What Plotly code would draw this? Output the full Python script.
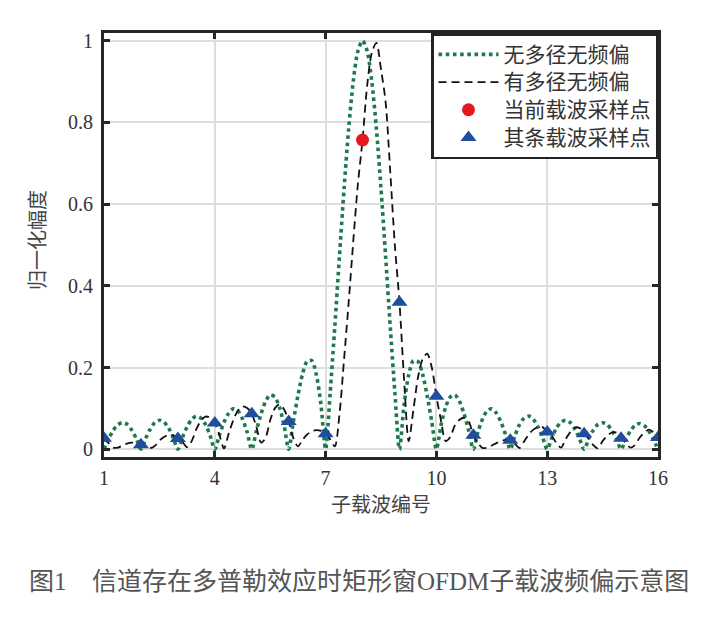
import plotly.graph_objects as go

# subcarrier axis samples (1 .. 16, step 0.125)
x_curve = [1, 1.125, 1.25, 1.375, 1.5, 1.625, 1.75, 1.875,
           2, 2.125, 2.25, 2.375, 2.5, 2.625, 2.75, 2.875,
           3, 3.125, 3.25, 3.375, 3.5, 3.625, 3.75, 3.875,
           4, 4.125, 4.25, 4.375, 4.5, 4.625, 4.75, 4.875,
           5, 5.125, 5.25, 5.375, 5.5, 5.625, 5.75, 5.875,
           6, 6.125, 6.25, 6.375, 6.5, 6.625, 6.75, 6.875,
           7, 7.125, 7.25, 7.375, 7.5, 7.625, 7.75, 7.875,
           8, 8.125, 8.25, 8.375, 8.5, 8.625, 8.75, 8.875,
           9, 9.125, 9.25, 9.375, 9.5, 9.625, 9.75, 9.875,
           10, 10.125, 10.25, 10.375, 10.5, 10.625, 10.75, 10.875,
           11, 11.125, 11.25, 11.375, 11.5, 11.625, 11.75, 11.875,
           12, 12.125, 12.25, 12.375, 12.5, 12.625, 12.75, 12.875,
           13, 13.125, 13.25, 13.375, 13.5, 13.625, 13.75, 13.875,
           14, 14.125, 14.25, 14.375, 14.5, 14.625, 14.75, 14.875,
           15, 15.125, 15.25, 15.375, 15.5, 15.625, 15.75, 15.875,
           16]

# 无多径无频偏 (green dotted)
y_no_multipath = [0, 0.025, 0.046, 0.060, 0.065, 0.061, 0.047, 0.026,
                  0, 0.026, 0.049, 0.065, 0.071, 0.066, 0.052, 0.028,
                  0, 0.029, 0.055, 0.073, 0.081, 0.076, 0.060, 0.033,
                  0, 0.035, 0.066, 0.088, 0.099, 0.094, 0.074, 0.042,
                  0, 0.045, 0.086, 0.117, 0.133, 0.128, 0.103, 0.059,
                  0, 0.067, 0.131, 0.184, 0.215, 0.217, 0.182, 0.109,
                  0, 0.140, 0.301, 0.472, 0.638, 0.785, 0.901, 0.975,
                  1.0, 0.975, 0.901, 0.785, 0.638, 0.472, 0.301, 0.140,
                  0, 0.109, 0.182, 0.217, 0.215, 0.184, 0.131, 0.067,
                  0, 0.059, 0.103, 0.128, 0.133, 0.117, 0.086, 0.045,
                  0, 0.042, 0.074, 0.094, 0.099, 0.088, 0.066, 0.035,
                  0, 0.033, 0.060, 0.076, 0.081, 0.073, 0.055, 0.029,
                  0, 0.028, 0.052, 0.066, 0.071, 0.065, 0.049, 0.026,
                  0, 0.026, 0.047, 0.061, 0.065, 0.060, 0.046, 0.025,
                  0, 0.024, 0.044, 0.058, 0.063, 0.058, 0.045, 0.024,
                  0]

# 有多径无频偏 (black dashed)
y_multipath = [0.027, 0.015, 0.004, 0.004, 0.009, 0.014, 0.016, 0.016,
               0.011, 0.008, 0.003, 0.008, 0.021, 0.030, 0.035, 0.034,
               0.026, 0.018, 0.005, 0.020, 0.049, 0.070, 0.080, 0.077,
               0.064, 0.035, 0.002, 0.038, 0.071, 0.095, 0.105, 0.101,
               0.087, 0.055, 0.016, 0.028, 0.071, 0.100, 0.110, 0.098,
               0.068, 0.028, 0.007, 0.023, 0.036, 0.044, 0.047, 0.045,
               0.038, 0.024, 0.007, 0.085, 0.22, 0.36, 0.51, 0.65,
               0.757, 0.89, 0.97, 0.995, 0.93, 0.85, 0.68, 0.50,
               0.36, 0.17, 0.02, 0.095, 0.175, 0.22, 0.234, 0.20,
               0.13, 0.07, 0.02, 0.03, 0.058, 0.072, 0.077, 0.068,
               0.034, 0.015, 0.003, 0.004, 0.009, 0.015, 0.020, 0.023,
               0.022, 0.013, 0.003, 0.019, 0.036, 0.048, 0.054, 0.054,
               0.042, 0.033, 0.015, 0.004, 0.025, 0.042, 0.053, 0.052,
               0.038, 0.025, 0.010, 0.002, 0.020, 0.033, 0.041, 0.041,
               0.027, 0.016, 0.004, 0.010, 0.028, 0.040, 0.048, 0.042,
               0.029]

# 当前载波采样点
x_current = [8]
y_current = [0.757]

# 其条载波采样点
x_others = [1, 2, 3, 4, 5, 6, 7, 9, 10, 11, 12, 13, 14, 15, 16]
y_others = [0.027, 0.011, 0.026, 0.064, 0.087, 0.068, 0.038, 0.36, 0.13,
            0.034, 0.022, 0.042, 0.038, 0.027, 0.029]

x_ticks = [1, 4, 7, 10, 13, 16]
y_ticks = [0, 0.2, 0.4, 0.6, 0.8, 1]
y_tick_text = ["0", "0.2", "0.4", "0.6", "0.8", "1"]

names = ["无多径无频偏", "有多径无频偏", "当前载波采样点", "其条载波采样点"]
x_title = "子载波编号"
y_title = "归一化幅度"
caption_num = "图<span style='font-family:Liberation Serif'>1</span>"
caption_text = ("信道存在多普勒效应时矩形窗"
                "<span style='font-family:Liberation Serif'>OFDM</span>"
                "子载波频偏示意图")

CJK = "Noto Sans CJK SC"
SERIF = "Liberation Serif"


def legend_label(s):
    return "<span style='font-size:21px'>" + s + "</span>"


fig = go.Figure()
fig.add_trace(go.Scatter(x=x_curve, y=y_no_multipath, mode="lines", name=legend_label(names[0]),
                         line=dict(color="#1e7a4c", width=3.6, dash="dot", shape="spline", smoothing=0.8)))
fig.add_trace(go.Scatter(x=x_curve, y=y_multipath, mode="lines", name=legend_label(names[1]),
                         line=dict(color="#111111", width=1.8, dash="8px,5px", shape="spline", smoothing=0.8)))
fig.add_trace(go.Scatter(x=x_current, y=y_current, mode="markers", name=legend_label(names[2]),
                         marker=dict(symbol="circle", size=13, color="#e3191f")))
fig.add_trace(go.Scatter(x=x_others, y=y_others, mode="markers", name=legend_label(names[3]),
                         marker=dict(symbol="triangle-up", size=14, color="#1f4e9e")))

axis_common = dict(
    showline=True, linecolor="#262626", linewidth=3, mirror="ticks",
    ticks="inside", ticklen=6, tickwidth=3, tickcolor="#262626",
    showgrid=True, gridcolor="#dedede", gridwidth=2, zeroline=False,
    tickfont=dict(family=SERIF, size=20, color="#333333"),
)

fig.update_xaxes(range=[1, 16], tickvals=x_ticks, ticktext=[str(v) for v in x_ticks],
                 ticklabelstandoff=1, **axis_common)
fig.update_yaxes(range=[-0.019, 1.019], tickvals=y_ticks, ticktext=y_tick_text,
                 ticklabelstandoff=4, **axis_common)

fig.update_layout(
    width=719, height=624,
    margin=dict(l=104, r=61, t=33, b=167),
    paper_bgcolor="white", plot_bgcolor="white",
    showlegend=True,
    legend=dict(x=1, y=1, xanchor="right", yanchor="top",
                bgcolor="white", bordercolor="#222222", borderwidth=2.5,
                font=dict(family=CJK, size=19, color="#333333"),
                itemwidth=60, tracegroupgap=0),
    annotations=[
        dict(text=x_title, xref="paper", yref="paper", x=0.5, y=-0.1085,
             xanchor="center", yanchor="middle", showarrow=False,
             font=dict(family=CJK, size=20, color="#444444")),
        dict(text=y_title, xref="paper", yref="paper", x=-0.121, y=0.512,
             xanchor="center", yanchor="middle", showarrow=False, textangle=-90,
             font=dict(family=CJK, size=20, color="#444444")),
        dict(text=caption_num, xref="paper", yref="paper", x=-0.139, y=-0.2877,
             xanchor="left", yanchor="middle", showarrow=False,
             font=dict(family=CJK, size=25, color="#555555")),
        dict(text=caption_text, xref="paper", yref="paper", x=-0.0253, y=-0.2877,
             xanchor="left", yanchor="middle", showarrow=False,
             font=dict(family=CJK, size=25, color="#555555")),
    ],
)

assert len(x_curve) == len(y_no_multipath) == len(y_multipath)
fig.write_html("out.html", config={"displayModeBar": False},
               post_script="document.body.style.margin='0';document.body.style.overflow='hidden';")
